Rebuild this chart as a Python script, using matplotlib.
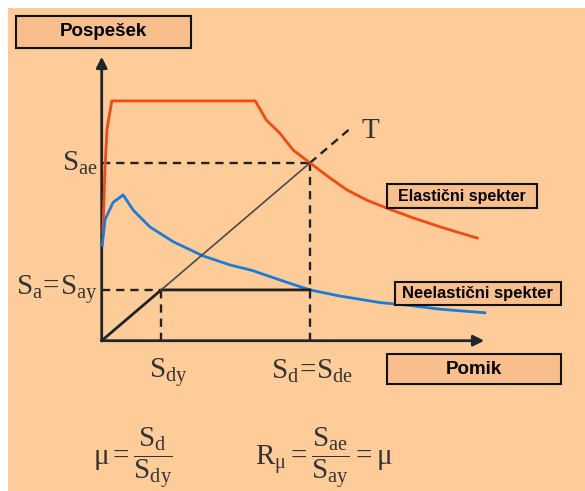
import matplotlib
matplotlib.use('Agg')
import matplotlib.pyplot as plt
from matplotlib.patches import Rectangle

plt.rcParams['mathtext.fontset'] = 'custom'
plt.rcParams['mathtext.rm'] = 'Liberation Serif'
plt.rcParams['mathtext.it'] = 'Liberation Serif:italic'
plt.rcParams['mathtext.bf'] = 'Liberation Serif:bold'

# tocke (pomik Sd / Sdy, pospesek Sa / Say)
sdy, say = 1.0, 1.0
sd, sae = 3.5, 3.5
t_end = 4.17
x_axis_end = 6.43
y_axis_end = 5.59

elastic_x = [0.02, 0.055, 0.09, 0.17, 2.58, 2.77, 2.99, 3.22, 3.50, 3.84, 4.12, 4.45, 4.79, 5.23, 5.69, 6.31]
elastic_y = [2.12, 3.39, 4.17, 4.72, 4.72, 4.34, 4.09, 3.75, 3.50, 3.20, 2.97, 2.77, 2.61, 2.42, 2.24, 2.02]

inelastic_x = [0.01, 0.055, 0.19, 0.36, 0.53, 0.81, 1.20, 1.70, 2.16, 2.54, 2.66, 3.16, 3.50, 4.00, 4.68, 5.13, 5.69, 6.44]
inelastic_y = [1.88, 2.38, 2.72, 2.87, 2.57, 2.24, 1.95, 1.67, 1.49, 1.38, 1.33, 1.13, 1.00, 0.88, 0.75, 0.70, 0.62, 0.55]

W, H = 585, 491
X0, Y0 = 101.7, 340.7   # izhodisce v pikslih
SX, SY = 59.5, 50.8     # piksli na enoto

PEACH = '#FECC99'
BOX = '#F8BF8D'
AX = '#1f262b'
RED = '#F24A12'
BLUE = '#1C7BD6'

fig = plt.figure(figsize=(W / 100, H / 100), dpi=100, facecolor='white')
fig.patches.append(Rectangle((8 / W, 0), 1, 1 - 8 / H, transform=fig.transFigure,
                             facecolor=PEACH, edgecolor='none', zorder=-5))
ax = fig.add_axes([0, 0, 1, 1])
ax.set_facecolor('none')
ax.set_xlim(-X0 / SX, (W - X0) / SX)
ax.set_ylim((Y0 - H) / SY, Y0 / SY)
ax.axis('off')


def fpx(x, y):
    return x / W, 1 - y / H


# osi
arrow = dict(arrowstyle='-|>', lw=2.0, color=AX, mutation_scale=16, shrinkA=0, shrinkB=0)
ax.annotate('', xy=(x_axis_end, 0), xytext=(0, 0), arrowprops=arrow)
ax.annotate('', xy=(0, y_axis_end), xytext=(0, 0), arrowprops=arrow)

# spektra
ax.plot(elastic_x, elastic_y, color=RED, lw=2.0, zorder=3)
ax.plot(inelastic_x, inelastic_y, color=BLUE, lw=2.0, zorder=3)

# bilinearna krivulja in premica T
ax.plot([0, sdy, sd], [0, say, say], color='#222', lw=2.0, zorder=4)
ax.plot([sdy, sd], [say, sae], color='#4a4a4a', lw=1.2, zorder=4)
dash = dict(color='#222', lw=1.7, ls=(0, (3.5, 2.5)), zorder=2)
ax.plot([sd, t_end], [sae, t_end], **dash)
ax.plot([0, sd], [sae, sae], **dash)
ax.plot([sd, sd], [0, sae], **dash)
ax.plot([0, sdy], [say, say], **dash)
ax.plot([sdy, sdy], [0, say], **dash)

# oznake
ms = 21
ax.text(-0.07, sae, r'$\mathrm{S}_{\mathrm{ae}}$', fontsize=ms, ha='right', va='center', color='#333')
ax.text(-0.07, say, r'$\mathrm{S}_{\mathrm{a}}\!=\!\mathrm{S}_{\mathrm{ay}}$', fontsize=ms, ha='right', va='center', color='#333')
ax.text(sdy + 0.12, -0.62, r'$\mathrm{S}_{\mathrm{dy}}$', fontsize=ms, ha='center', va='center', color='#333')
ax.text(sd + 0.03, -0.6, r'$\mathrm{S}_{\mathrm{d}}\!=\!\mathrm{S}_{\mathrm{de}}$', fontsize=ms, ha='center', va='center', color='#333')
ax.text(t_end + 0.35, t_end - 0.05, 'T', fontsize=ms, family='Liberation Serif', ha='center', va='center', color='#333')


def label_box(x0, y0, x1, y1, text, size, family):
    (a, b), (c, d) = fpx(x0, y1), fpx(x1, y0)
    fig.patches.append(Rectangle((a, b), c - a, d - b, transform=fig.transFigure,
                                 facecolor=BOX, edgecolor='#111', lw=1.5, zorder=5))
    fig.text((a + c) / 2, (b + d) / 2, text, fontsize=size, fontweight='bold',
             family=family, ha='center', va='center', color='black', zorder=6)


label_box(16, 16, 191, 48, 'Pospešek', 13.5, ['Liberation Sans', 'DejaVu Sans'])
label_box(387, 354, 561, 384, 'Pomik', 13.5, ['Liberation Sans', 'DejaVu Sans'])
label_box(387, 184, 537, 208, 'Elastični spekter', 11.5, ['Liberation Sans', 'DejaVu Sans'])
label_box(395, 282, 561, 305, 'Neelastični spekter', 12, ['Liberation Sans Narrow', 'Liberation Sans', 'DejaVu Sans'])

# formuli
fig.text(*fpx(93, 446), r'$\mathrm{μ}=\dfrac{\mathrm{S}_{\mathrm{d}}}{\mathrm{S}_{\mathrm{dy}}}$',
         fontsize=ms, ha='left', va='center_baseline', color='#333')
fig.text(*fpx(255, 446), r'$\mathrm{R}_{\mathrm{μ}}=\dfrac{\mathrm{S}_{\mathrm{ae}}}{\mathrm{S}_{\mathrm{ay}}}=\mathrm{μ}$',
         fontsize=ms, ha='left', va='center_baseline', color='#333')

fig.savefig('out.png', dpi=100, facecolor=fig.get_facecolor())
